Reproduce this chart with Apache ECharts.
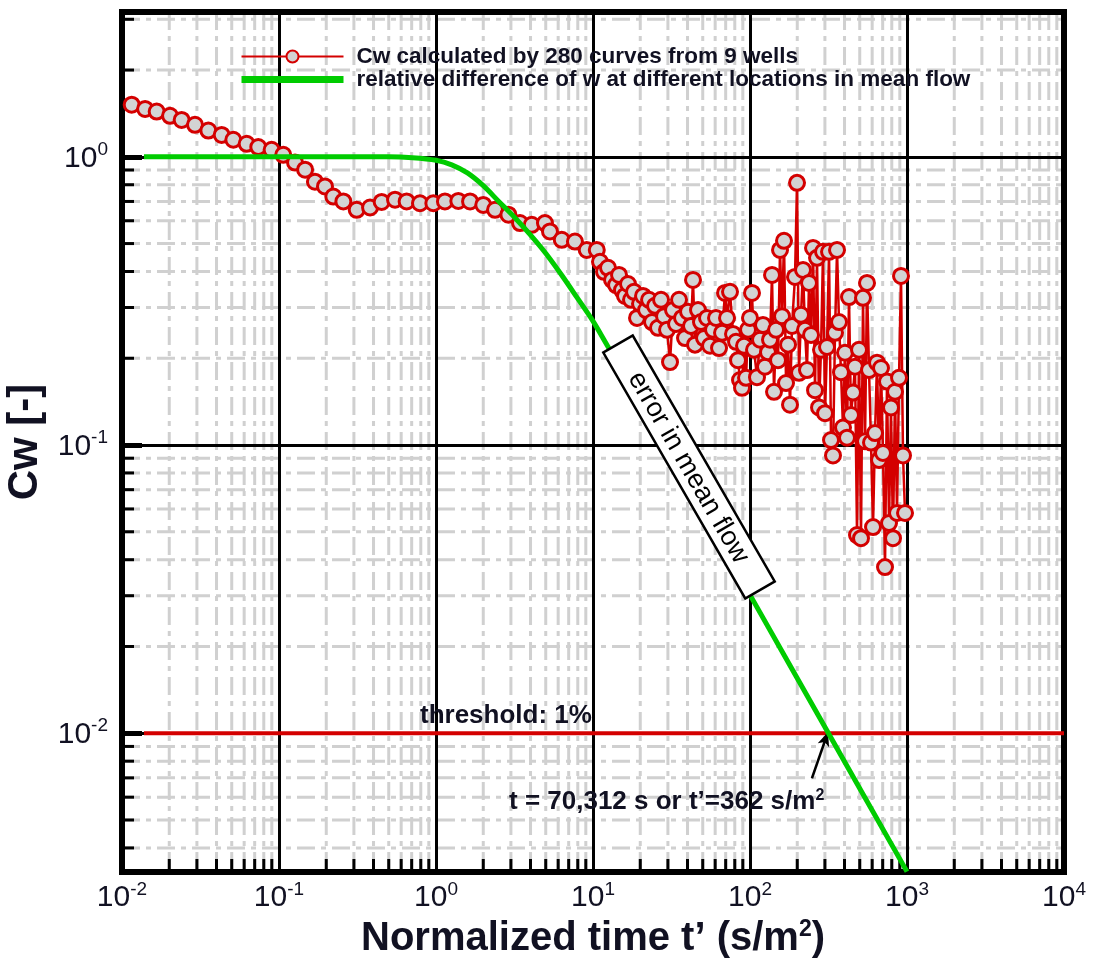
<!DOCTYPE html>
<html><head><meta charset="utf-8">
<script src="https://cdn.jsdelivr.net/npm/echarts@6/dist/echarts.min.js"></script>
<style>html,body{margin:0;padding:0;background:#fff}#c{width:1098px;height:959px}</style>
</head><body><div id="c"></div>
<script>
// ---- data ----
const cwX = [0.01153,0.01403,0.01663,0.02023,0.02399,0.02917,0.03548,0.04315,0.05117,0.06223,0.07379,0.08974,0.1064,0.1265,0.1466,0.1694,0.1963,0.2218,0.257,0.3126,0.3802,0.4508,0.5483,0.6501,0.7907,0.9616,1.14,1.387,1.648,2.0,2.377,2.891,3.428,4.074,4.943,5.321,6.324,7.674,9.12,10.57,
11.08,11.75,12.46,13.22,14.02,14.65,15.30,15.99,16.71,17.46,18.25,19.07,19.93,20.83,21.77,22.75,23.76,24.83,25.94,27.12,28.34,29.61,30.94,32.33,33.79,35.31,36.90,38.56,40.29,42.09,43.35,44.64,46.65,48.74,50.94,53.23,55.63,58.13,60.75,63.49,66.34,69.33,71.39,74.59,77.95,81.46,83.88,86.38,88.95,91.61,94.34,97.14,100,102.98,106.05,110.82,115.8,121.0,124.6,130.2,134.1,138.1,142.2,146.5,150.8,155.3,159.9,164.7,169.6,174.7,179.8,185.2,193.5,199.3,205.2,211.3,217.6,224.1,230.7,237.6,244.7,252.0,259.5,267.2,275.2,283.3,291.8,300.5,309.4,318.7,328.1,337.8,347.9,358.3,369.0,379.8,391.1,402.8,414.8,427.2,439.9,453.0,466.5,480.4,494.8,509.4,524.6,540.3,556.3,572.9,589.9,607.5,625.6,644.2,663.4,683.0,703.3,724.3,745.8,768.1,790.9,814.5,838.8,863.7,889.5,915.9,943.1,971.3];
const cwY = [1.517,1.466,1.436,1.387,1.343,1.291,1.233,1.191,1.146,1.109,1.081,1.057,1.016,0.955,0.902,0.82,0.789,0.728,0.7,0.655,0.667,0.697,0.71,0.7,0.69,0.69,0.7,0.703,0.7,0.681,0.655,0.63,0.589,0.581,0.589,0.551,0.515,0.508,0.475,0.475,
0.432,0.399,0.412,0.374,0.359,0.389,0.345,0.329,0.362,0.319,
0.340,0.276,0.309,0.329,0.294,0.319,0.267,0.304,0.255,0.319,
0.280,0.251,0.194,0.294,0.263,0.319,0.276,0.235,0.290,0.259,
0.374,0.223,0.294,0.267,0.235,0.276,0.221,0.251,0.276,0.217,
0.245,0.337,0.276,0.340,0.243,0.228,0.197,0.168,0.158,0.221,
0.171,0.251,0.276,0.337,0.214,0.172,0.232,0.261,0.187,0.210,
0.232,0.389,0.153,0.251,0.197,0.475,0.280,0.511,0.164,0.223,
0.138,0.259,0.383,0.812,0.178,
0.283,0.405,0.251,0.182,0.365,
0.241,0.483,0.155,0.446,0.135,
0.214,0.468,0.129,0.219,0.468,
0.104,0.092,0.245,0.475,0.267,
0.179,0.115,0.209,0.106,0.326,
0.127,0.152,0.187,0.0487,0.214,
0.0475,0.324,0.103,0.365,0.182,
0.102,0.0519,0.110,0.193,0.0887,
0.185,0.0939,0.0377,0.166,0.0536,
0.135,0.0475,0.153,0.0581,0.171,
0.386,0.092,0.0581];
const meanX = [0.0138,0.5,0.708,1.0,1.26,1.585,2.0,2.51,3.16,3.98,5.01,6.31,7.94,10,12.3,17.8,31.6,100,316,1000];
const meanY = [1,1,0.993,0.973,0.938,0.879,0.794,0.70,0.617,0.537,0.462,0.389,0.324,0.269,0.222,0.158,0.0933,0.0302,0.01,0.00331];
const thresholdX = [0.0138, 10000];
const thresholdY = [0.01, 0.01];
const arrowFrom = [248, 0.00698];
const arrowTo = [314, 0.0101];
const xDecades = [0.01, 0.1, 1, 10, 100, 1000];
const yDecades = [0.001, 0.01, 0.1, 1];
const minorMult = [2,3,4,5,6,7,8,9];
const xTickLabels = {'-2':'-2','-1':'-1','0':'0','1':'1','2':'2','3':'3','4':'4'};
const yTickLabels = {'-2':'-2','-1':'-1','0':'0'};

const nameCw = 'Cw calculated by 280 curves from 9 wells';
const nameMean = 'relative difference of w at different locations in mean flow';

const FONT = '"Liberation Sans", Arial, sans-serif';
const TXT = '#111122';

const xMin = 0.01, xMax = 10000, yMin = 0.0033, yMax = 3.18;
const xMinor = [], yMinor = [];
xDecades.forEach(d => minorMult.forEach(m => xMinor.push([d*m, 1])));
yDecades.forEach(d => minorMult.forEach(m => { const v = d*m; if (v > yMin && v < yMax) yMinor.push([1, v]); }));

function powFmt(map) {
  return function (v) {
    const e = Math.log10(v);
    const r = Math.round(e);
    if (Math.abs(e - r) > 1e-6) return '';
    const k = String(r);
    if (!(k in map)) return '';
    return '{b|10}{s|' + map[k] + '}';
  };
}
const richLab = {
  b: {fontSize: 30, fontFamily: FONT, color: TXT, verticalAlign: 'bottom'},
  s: {fontSize: 19, fontFamily: FONT, color: TXT, verticalAlign: 'bottom', padding: [0, 0, 14, 0]}
};

const chart = echarts.init(document.getElementById('c'), null, {renderer: 'canvas'});
chart.setOption({
  animation: false,
  backgroundColor: '#fff',
  grid: {left: 122, right: 34, top: 12, bottom: 87, show: true, borderColor: '#000', borderWidth: 6, backgroundColor: 'transparent', containLabel: false, outerBoundsMode: 'none'},
  legend: {
    data: [
      {name: nameCw},
      {name: nameMean, itemStyle: {opacity: 0}, lineStyle: {width: 7, color: '#00cc00'}}
    ],
    orient: 'vertical', left: 238, top: 45, padding: 0,
    itemWidth: 102, itemHeight: 15, itemGap: 0,
    textStyle: {fontFamily: FONT, fontWeight: 'bold', fontSize: 22.5, color: TXT, padding: [0, 0, 0, 8]}
  },
  xAxis: {
    type: 'log', logBase: 10, min: xMin, max: xMax,
    axisLine: {show: true, onZero: false, lineStyle: {color: '#000', width: 5}},
    axisTick: {show: false},
    splitLine: {show: true, lineStyle: {color: '#000', width: 3}},
    axisLabel: {margin: 8, formatter: powFmt(xTickLabels), rich: richLab, showMinLabel: true, showMaxLabel: true},
    name: 'Normalized time t\u2019 (s/m{s|2})', nameLocation: 'middle', nameGap: 38,
    nameTextStyle: {fontFamily: FONT, fontWeight: 'bold', fontSize: 40, color: TXT,
      rich: {s: {fontFamily: FONT, fontWeight: 'bold', fontSize: 23, color: TXT, verticalAlign: 'bottom', padding: [0, 0, 19, 0]}}}
  },
  yAxis: {
    type: 'log', logBase: 10, min: yMin, max: yMax,
    axisLine: {show: true, onZero: false, lineStyle: {color: '#000', width: 5}},
    axisTick: {show: true, inside: true, length: 20, lineStyle: {color: '#000', width: 5}},
    splitLine: {show: true, lineStyle: {color: '#000', width: 3}},
    axisLabel: {margin: 14, formatter: powFmt(yTickLabels), rich: richLab},
    name: 'Cw [-]', nameLocation: 'middle', nameGap: 68,
    nameTextStyle: {fontFamily: FONT, fontWeight: 'bold', fontSize: 42, color: TXT}
  },
  series: [
    {
      type: 'custom', name: 'xminor', z: -1, silent: true, clip: true,
      data: xMinor, encode: {x: 0, y: 1},
      renderItem: function (params, api) {
        const cs = params.coordSys;
        const px = api.coord([api.value(0), 1])[0];
        return {type: 'group', children: [
          {type: 'line', shape: {x1: px, y1: cs.y, x2: px, y2: cs.y + cs.height}, style: {stroke: '#d0d0d0', lineWidth: 3, lineDash: [18, 6, 5, 6]}},
          {type: 'line', shape: {x1: px, y1: cs.y + cs.height, x2: px, y2: cs.y + cs.height - 13}, style: {stroke: '#000', lineWidth: 3}}
        ]};
      }
    },
    {
      type: 'custom', name: 'yminor', z: -1, silent: true, clip: true,
      data: yMinor, encode: {x: 0, y: 1},
      renderItem: function (params, api) {
        const cs = params.coordSys;
        const py = api.coord([1, api.value(1)])[1];
        return {type: 'group', children: [
          {type: 'line', shape: {x1: cs.x, y1: py, x2: cs.x + cs.width, y2: py}, style: {stroke: '#d0d0d0', lineWidth: 3, lineDash: [18, 6, 5, 6]}},
          {type: 'line', shape: {x1: cs.x, y1: py, x2: cs.x + 12, y2: py}, style: {stroke: '#000', lineWidth: 3}}
        ]};
      }
    },
    {
      type: 'line', name: 'threshold', z: 3, silent: true,
      data: thresholdX.map((x, i) => [x, thresholdY[i]]),
      symbol: 'none', lineStyle: {color: '#d40000', width: 4},
      markLine: {
        silent: true, symbol: ['none', 'arrow'], symbolSize: [9, 14],
        label: {show: false},
        lineStyle: {color: '#000', width: 2.5, type: 'solid'},
        data: [[{coord: arrowFrom}, {coord: arrowTo}]]
      }
    },
    {
      type: 'line', name: nameCw, z: 4,
      data: cwX.map((x, i) => [x, cwY[i]]),
      symbol: 'circle', symbolSize: 15,
      lineStyle: {color: '#d40000', width: 2.5},
      itemStyle: {color: '#d3d3d3', borderColor: '#d40000', borderWidth: 3}
    },
    {
      type: 'line', name: nameMean, z: 5,
      data: meanX.map((x, i) => [x, meanY[i]]),
      symbol: 'none', smooth: 0.3,
      lineStyle: {color: '#00cc00', width: 5},
      itemStyle: {color: '#00cc00'}
    }
  ],
  graphic: [
    {
      type: 'group', x: 689, y: 467, rotation: -60 * Math.PI / 180, z: 100,
      children: [
        {type: 'rect', z: 100, shape: {x: -142, y: -17, width: 284, height: 34}, style: {fill: '#fff', stroke: '#000', lineWidth: 2.5}},
        {type: 'text', z: 101, x: 0, y: 1, style: {text: 'error in mean flow', align: 'center', verticalAlign: 'middle', textAlign: 'center', textVerticalAlign: 'middle', fontSize: 27, fontFamily: FONT, fill: '#000'}}
      ]
    },
    {
      type: 'text', x: 420, y: 716, z: 100,
      style: {text: 'threshold: 1%', verticalAlign: 'middle', textVerticalAlign: 'middle', fontSize: 26, fontWeight: 'bold', fontFamily: FONT, fill: TXT}
    },
    {
      type: 'text', x: 509, y: 802, z: 100,
      style: {text: 't = 70,312 s or t\u2019=362 s/m{s|2}', verticalAlign: 'middle', textVerticalAlign: 'middle', fontSize: 26, fontWeight: 'bold', fontFamily: FONT, fill: TXT,
        rich: {s: {fontSize: 16, fontWeight: 'bold', fontFamily: FONT, fill: TXT, padding: [0, 0, 13, 0]}}}
    }
  ]
});
</script>
</body></html>
